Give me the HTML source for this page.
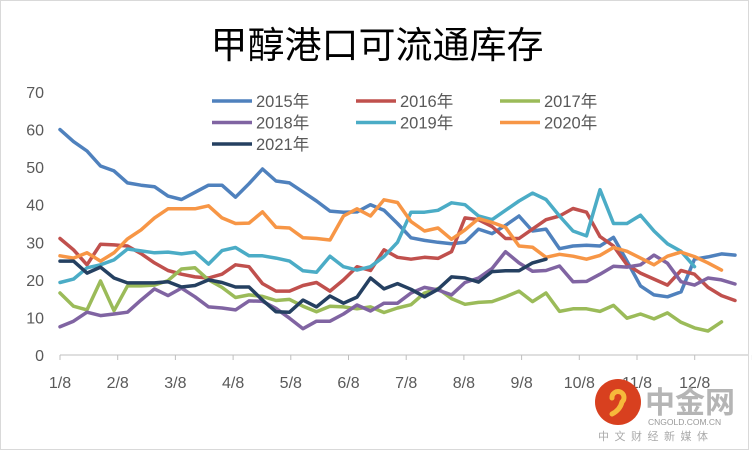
<!DOCTYPE html>
<html><head><meta charset="utf-8"><style>
html,body{margin:0;padding:0;background:#fff;}
svg{display:block;font-family:"Liberation Sans","Noto Sans CJK SC",sans-serif;}
</style></head><body>
<svg id="chart" width="752" height="452" viewBox="0 0 752 452">
<rect x="0.5" y="0.5" width="748" height="449" fill="#fff" stroke="#d9d9d9"/>
<text x="377" y="58" text-anchor="middle" font-size="37" fill="#000">甲醇港口可流通库存</text>
<g id="yaxis"></g>
<g id="xaxis"></g>
<g id="series"></g>
<g id="legend"></g>
<g>
<circle cx="618" cy="402" r="23" fill="#d8401f"/>
<path d="M612 398 a6 6 0 1 1 10 4 q-2 8 -10 12" fill="none" stroke="#f6b93b" stroke-width="5" stroke-linecap="round"/>
<text x="645" y="413" font-size="30" font-weight="bold" fill="#b5b5b5">中金网</text>
<text x="648" y="425" font-size="8.5" fill="#999">CNGOLD.COM.CN</text>
<text x="598" y="440" font-size="11" fill="#aaa" letter-spacing="5.5">中文财经新媒体</text>
</g>
</svg>
<script>
const yTicks = [0,10,20,30,40,50,60,70];
const xLabels = ["1/8","2/8","3/8","4/8","5/8","6/8","7/8","8/8","9/8","10/8","11/8","12/8"];
const seriesNames = ["2015年","2016年","2017年","2018年","2019年","2020年","2021年"];
const s2015 = [60,56.8,54.3,50.3,49,45.8,45.2,44.8,42.3,41.4,43.3,45.2,45.2,42,45.6,49.5,46.3,45.8,43.4,41,38.3,38,38.1,40,38.5,35,31.2,30.5,30,29.6,30,33.5,32.3,34.5,37,33,33.5,28.3,29,29.2,29,31.3,25,18.4,16,15.5,16.8,25.5,26.1,26.9,26.6];
const s2016 = [31,28,24,29.5,29.3,29,27,24.5,22.5,21.5,20.8,20.5,21.5,24,23.5,19,17,17,18.5,19.3,17,20,23.5,22.5,28,26,25.5,26,25.7,27.5,36.5,36,34.2,31,31,33.5,36,37,39,38,31.5,29,24,21.8,20.2,18.6,22.5,21.5,18,15.8,14.5];
const s2017 = [16.5,13,12,19.7,11.8,18.4,18.4,18.6,19.8,22.9,23.2,20,18,15.3,16,15.6,14.5,14.8,13,11.5,13,12.8,12.3,12.8,11.3,12.5,13.4,16.5,17.7,15,13.5,14,14.2,15.5,17,14.2,16.5,11.6,12.3,12.3,11.6,13.2,9.8,10.9,9.6,11.2,8.7,7.2,6.4,8.8];
const s2018 = [7.5,9,11.4,10.5,10.9,11.4,14.6,17.6,15.8,17.8,15.5,12.8,12.5,12,14.4,14.3,12.4,9.8,7,9,9,10.9,13.3,11.7,13.8,13.8,16.5,18,17.3,16,19.3,20.5,23,27.5,24.5,22.3,22.5,23.7,19.5,19.6,21.5,23.6,23.4,24,26.6,24.4,19.5,18.6,20.5,20,18.9];
const s2019 = [19.3,20.2,23.2,24,25.3,28.2,27.7,27.2,27.4,26.9,27.4,24.2,27.8,28.6,26.4,26.4,25.8,25,22.4,22,26.3,23.5,22.6,23.5,26.2,30,38,38,38.5,40.5,40,37,36,38.5,41,43.1,41.4,37,33,31.7,44,35,35,37.2,33,29.6,27.6,23.5];
const s2020 = [26.4,25.8,27.2,25,27.2,30.9,33.3,36.5,38.9,38.9,38.9,39.7,36.5,35,35.1,38.1,34,33.8,31.2,31,30.6,37,38.9,37,41.3,40.6,35.5,33,33.8,30.8,33.3,36.3,35.3,34,29,28.7,26,26.8,26.3,25.5,26.5,28.6,27.6,25.8,24,26.3,27.4,26.2,24.5,22.6];
const s2021 = [25,25,21.8,23.4,20.5,19.2,19.2,19.2,19.5,18.1,18.5,20,19.3,18.1,18.1,14.6,11.5,11.4,14.6,12.8,15.7,13.8,15.4,20.5,17.6,19,17.5,15.5,17.5,20.8,20.5,19.4,22.2,22.4,22.4,24.5,25.5];
const allSeries = [s2015,s2016,s2017,s2018,s2019,s2020,s2021];
const colors = ["#4f81bd","#c0504d","#9bbb59","#8064a2","#4bacc6","#f79646","#254061"];
const NS="http://www.w3.org/2000/svg";
const y0=355, y70=92, xStart=60, weekW=13.5, monthW=57.7;
function yScale(v){return y0-(v/70)*(y0-y70);}
function xScale(i){return xStart+i*weekW;}
function mk(tag,attrs){const e=document.createElementNS(NS,tag);for(const k in attrs)e.setAttribute(k,attrs[k]);return e;}
const ya=document.getElementById('yaxis');
yTicks.forEach(t=>{const tx=mk('text',{x:44,y:yScale(t)+6,'text-anchor':'end','font-size':16,fill:'#595959'});


tx.textContent=t;ya.appendChild(tx);});
const xa=document.getElementById('xaxis');
const axl=mk('line',{x1:xStart,y1:y0,x2:748,y2:y0,stroke:'#bfbfbf','stroke-width':1});


xa.appendChild(axl);
for(let m=0;m<=12;m++){const x=xStart+m*monthW;
const tk=mk('line',{x1:x,y1:y0,x2:x,y2:y0+5,stroke:'#bfbfbf'});


xa.appendChild(tk);
if(m<xLabels.length){const tx=mk('text',{x:x,y:388,'text-anchor':'middle','font-size':16,fill:'#595959'});


tx.textContent=xLabels[m];xa.appendChild(tx);}}
const sg=document.getElementById('series');
allSeries.forEach((arr,k)=>{const pts=arr.map((v,i)=>xScale(i).toFixed(1)+','+yScale(v).toFixed(1)).join(' ');
const pl=mk('polyline',{points:pts,fill:'none',stroke:colors[k],'stroke-width':3.5,'stroke-linejoin':'round','stroke-linecap':'round'});


sg.appendChild(pl);});
const lg=document.getElementById('legend');
seriesNames.forEach((n,k)=>{const col=k%3,row=Math.floor(k/3);const lx=212+col*144,ly=101+row*21.5;
const g=mk('g',{});


g.appendChild(mk('line',{x1:lx,y1:ly,x2:lx+40,y2:ly,stroke:colors[k],'stroke-width':3.5}));
const tx=mk('text',{x:lx+44,y:ly+6,'font-size':16.5,fill:'#595959'});tx.textContent=n;g.appendChild(tx);lg.appendChild(g);});
</script>
</body></html>
